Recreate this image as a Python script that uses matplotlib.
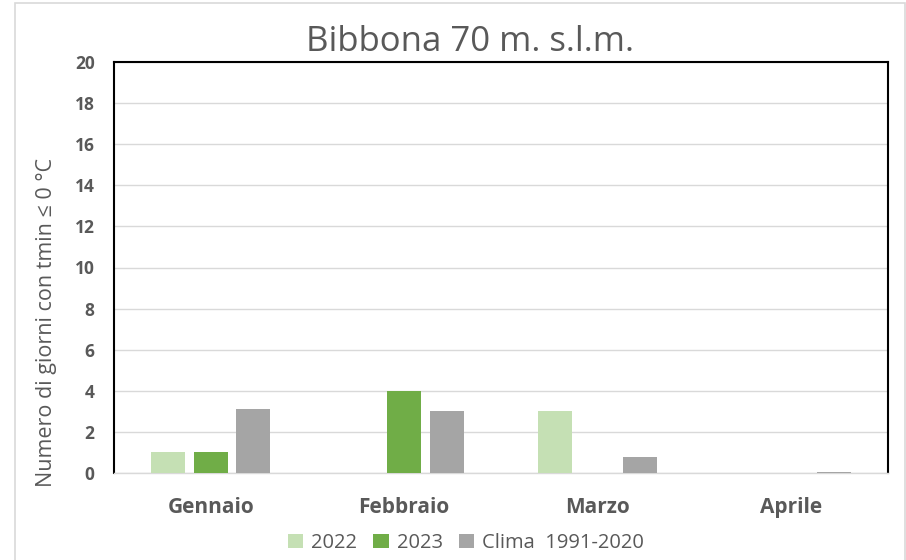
import matplotlib.pyplot as plt
import matplotlib.patches as mpatches
import numpy as np

months = ['Gennaio', 'Febbraio', 'Marzo', 'Aprile']
y2022 = [1, 0, 3, 0]
y2023 = [1, 4, 0, 0]
clima = [3.1, 3.0, 0.8, 0.05]
series_names = ['2022', '2023', 'Clima  1991-2020']
colors = ['#c5e0b4', '#70ad47', '#a5a5a5']

plt.rcParams['font.family'] = ['Open Sans', 'DejaVu Sans']

W, H = 906, 560
fig = plt.figure(figsize=(W / 100, H / 100), dpi=100)
ax = fig.add_axes([114 / W, 1 - 473 / H, (888 - 114) / W, (473 - 62) / H])

# outer chart border
fig.patches.append(mpatches.Rectangle((15 / W, -0.05), (905 - 15) / W, 1 - 3 / H + 0.05,
                                      transform=fig.transFigure, fill=False,
                                      edgecolor='#d9d9d9', lw=1.2))

x = np.arange(len(months))
w = 0.176
step = 0.22
for i, (vals, c, name) in enumerate(zip([y2022, y2023, clima], colors, series_names)):
    ax.bar(x + (i - 1) * step, vals, w, color=c, label=name, zorder=3)

ax.set_xlim(-0.5, 3.5)
ax.set_ylim(0, 20)
ax.set_yticks(range(0, 21, 2))
ax.yaxis.grid(True, color='#d9d9d9', lw=1, zorder=0)
ax.set_xticks(x)
ax.set_xticklabels(months, fontsize=15, fontweight='bold', color='#595959')
for lab in ax.get_yticklabels():
    lab.set_fontweight('bold')
ax.tick_params(axis='y', labelsize=12.5, labelcolor='#595959', length=0, pad=14)
ax.tick_params(axis='x', length=0, pad=17)

for s in ['left', 'right', 'top']:
    ax.spines[s].set_color('black')
    ax.spines[s].set_linewidth(1.5)
ax.spines['bottom'].set_color('#d9d9d9')
ax.spines['bottom'].set_linewidth(1)

ax.set_ylabel('Numero di giorni con tmin ≤ 0 °C', fontsize=15.5, color='#595959')
ax.yaxis.set_label_coords(-(114 - 57) / (888 - 114), (473 - 322) / (473 - 62))
fig.text(470 / W, 1 - 42 / H, 'Bibbona 70 m. s.l.m.', ha='center', va='center',
         fontsize=25, color='#595959')

ax.legend(loc='center', bbox_to_anchor=(466 / W, 1 - 543 / H), bbox_transform=fig.transFigure,
          ncol=3, frameon=False, fontsize=14.5, handlelength=0.75, handleheight=0.75,
          handletextpad=0.4, columnspacing=0.8, labelcolor='#595959')

fig.savefig('out.png', dpi=100)
